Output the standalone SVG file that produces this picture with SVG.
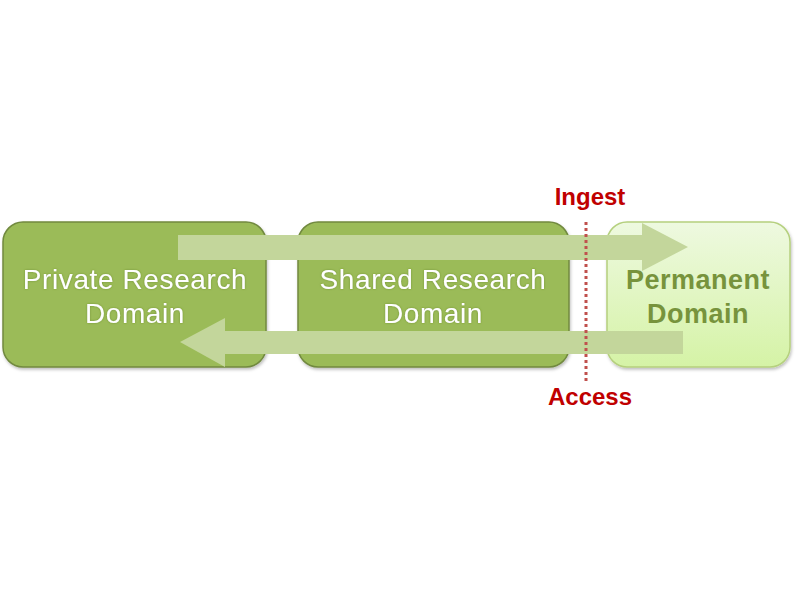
<svg xmlns="http://www.w3.org/2000/svg" width="800" height="600" viewBox="0 0 800 600">
<defs>
<linearGradient id="perm" x1="0" y1="0" x2="0" y2="1">
<stop offset="0" stop-color="#eef9e0"/>
<stop offset="1" stop-color="#d5f3a6"/>
</linearGradient>
<filter id="sh" x="-5%" y="-5%" width="110%" height="115%">
<feDropShadow dx="1" dy="2" stdDeviation="1.5" flood-color="#000" flood-opacity="0.25"/>
</filter>
<filter id="tg" x="-5%" y="-20%" width="110%" height="140%">
<feDropShadow dx="0" dy="0" stdDeviation="1" flood-color="#5a7a20" flood-opacity="0.6"/>
</filter>
</defs>
<style>
.box{fill:#9bbb59;stroke:#71893f;stroke-width:1.5}
.lbl{font-family:"Liberation Sans",sans-serif;font-size:28px;fill:#ffffff;text-anchor:middle;letter-spacing:0.6px}
.plbl{font-family:"Liberation Sans",sans-serif;font-size:27px;font-weight:bold;fill:#77933c;text-anchor:middle;letter-spacing:0.5px}
.arrow{fill:#c3d69b}
.red{font-family:"Liberation Sans",sans-serif;font-size:24px;font-weight:bold;fill:#c00000;text-anchor:middle}
</style>
<rect width="800" height="600" fill="#ffffff"/>
<g id="private">
<rect class="box" x="3" y="222" width="263" height="145" rx="20" filter="url(#sh)"/>
<text class="lbl" x="135" y="289" filter="url(#tg)">Private Research</text>
<text class="lbl" x="135" y="323" filter="url(#tg)">Domain</text>
</g>
<g id="shared">
<rect class="box" x="298" y="222" width="271" height="145" rx="20" filter="url(#sh)"/>
<text class="lbl" x="433" y="289" filter="url(#tg)">Shared Research</text>
<text class="lbl" x="433" y="323" filter="url(#tg)">Domain</text>
</g>
<g id="permanent">
<rect x="607" y="222" width="183" height="145" rx="20" fill="url(#perm)" stroke="#b5d07e" stroke-width="1.5" filter="url(#sh)"/>
<text class="plbl" x="698" y="289">Permanent</text>
<text class="plbl" x="698" y="323">Domain</text>
</g>
<g id="connectors">
<polygon class="arrow" points="178,235 642,235 642,223 688,247 642,271 642,260 178,260"/>
<polygon class="arrow" points="683,331 225,331 225,318 180,342 225,367 225,354 683,354"/>
<line x1="586" y1="222" x2="586" y2="383" stroke="#c0504d" stroke-width="3" stroke-dasharray="3,3"/>
</g>
<g id="labels">
<text class="red" x="590" y="205">Ingest</text>
<text class="red" x="590" y="405">Access</text>
</g>
</svg>
